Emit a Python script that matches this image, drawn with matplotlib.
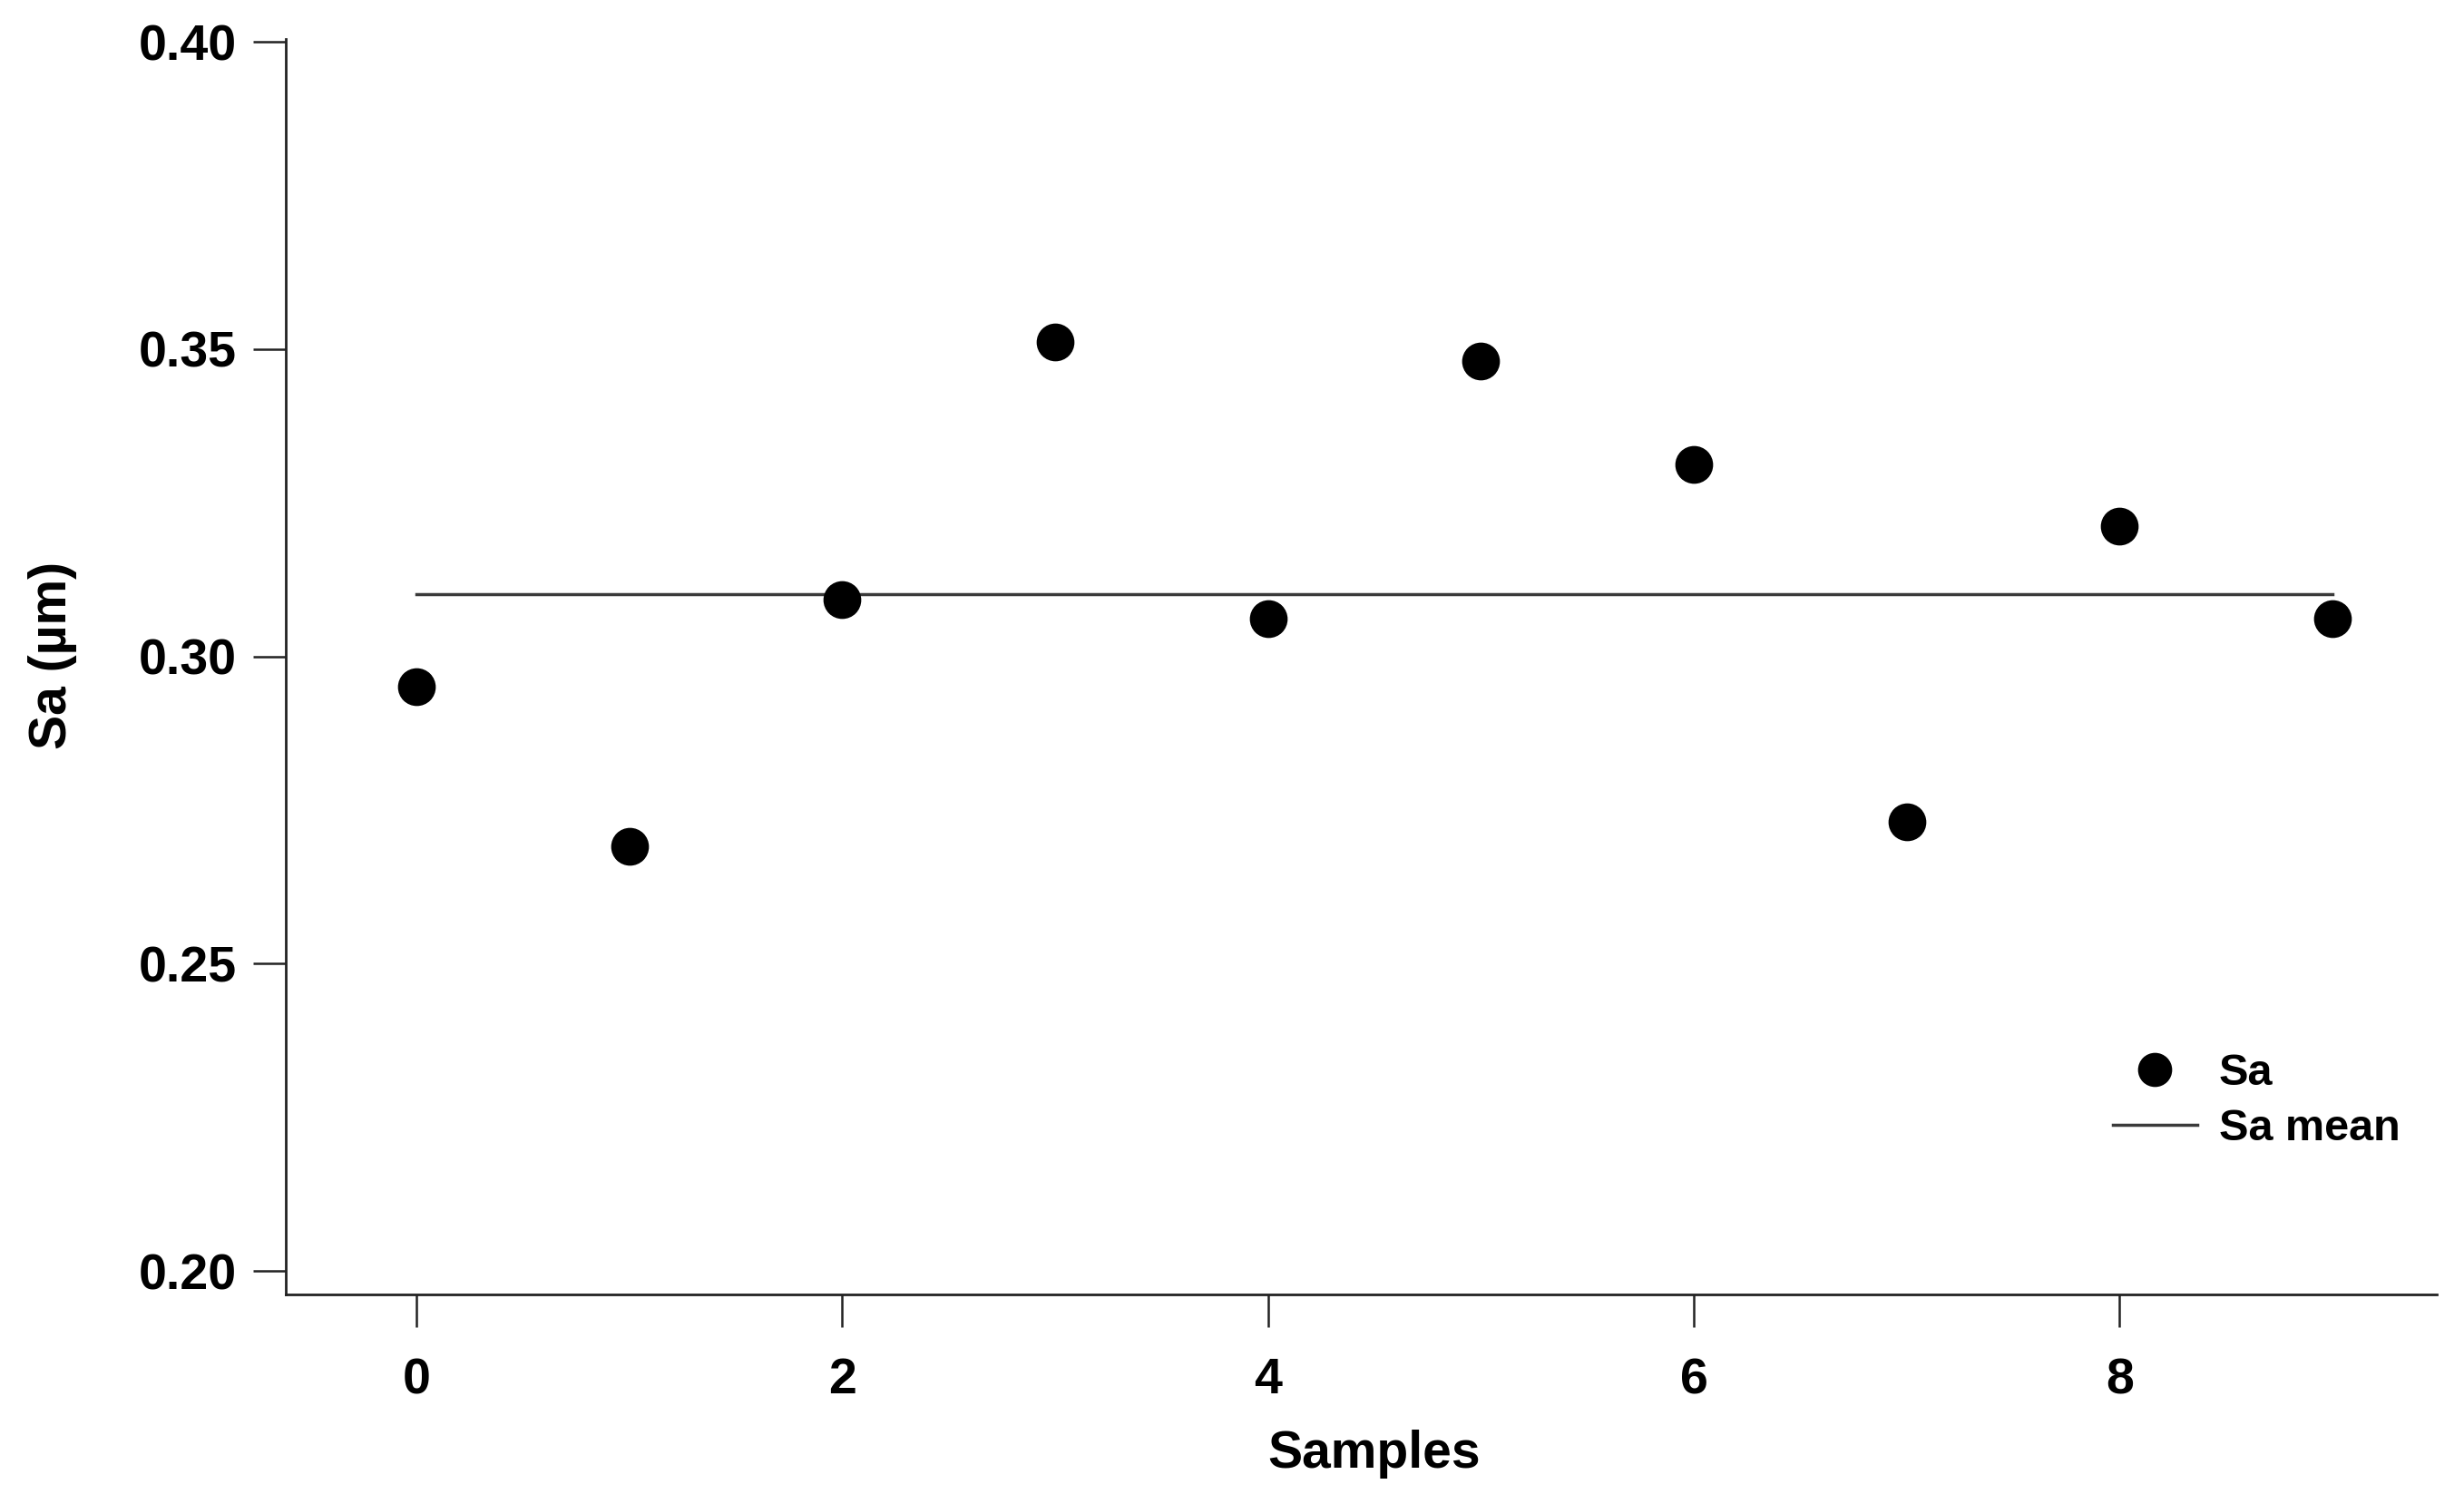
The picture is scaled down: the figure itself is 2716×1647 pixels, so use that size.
import numpy as np
import matplotlib
matplotlib.use("Agg")
import matplotlib.pyplot as plt

# Sa values
samples = [0, 1, 2, 3, 4, 5, 6, 7, 8, 9]
sa = [0.2951, 0.2691, 0.3092, 0.3512, 0.3061, 0.3481, 0.3312, 0.2731, 0.3212, 0.3061]
sa_mean = 0.3102  # mean line as drawn in the reference

yticks = [0.20, 0.25, 0.30, 0.35, 0.40]
ytick_labels = ["0.20", "0.25", "0.30", "0.35", "0.40"]
xticks = [0, 2, 4, 6, 8]

plt.rcParams['font.family'] = ['Liberation Sans', 'DejaVu Sans']
plt.rcParams['font.weight'] = 'bold'

fig = plt.figure(figsize=(27.16, 16.47), dpi=100)
ax = fig.add_axes([0.116, 0.1336, 0.873, 0.8404])

ax.plot(samples, sa, 'o', color='black', markersize=29, label='Sa', zorder=3)
ax.plot([samples[0], samples[-1]], [sa_mean, sa_mean], '-', color='#3a3a3a',
        lw=2.5, label='Sa mean')

ax.set_xlim(-0.613, 9.49)
ax.set_ylim(0.1962, 0.4005)
ax.set_xticks(xticks)
ax.set_yticks(yticks)
ax.set_yticklabels(ytick_labels)

for s in ['top', 'right']:
    ax.spines[s].set_visible(False)
for s in ['left', 'bottom']:
    ax.spines[s].set_linewidth(2.0)
    ax.spines[s].set_color('#222222')

ax.tick_params(axis='both', direction='out', length=26, width=1.8,
               color='#222222', labelsize=40)
ax.tick_params(axis='y', pad=13)
ax.tick_params(axis='x', pad=24)
for lab in ax.get_xticklabels() + ax.get_yticklabels():
    lab.set_fontweight('bold')

ax.set_xlabel('Samples', fontsize=41, fontweight='bold')
ax.set_ylabel('Sa (µm)', fontsize=41, fontweight='bold')
ax.xaxis.set_label_coords(0.506, -0.108)
ax.yaxis.set_label_coords(-0.097, 0.509)

leg = ax.legend(loc='upper left', bbox_to_anchor=(0.8495, 0.192), frameon=False,
                fontsize=35, handlelength=1.9, handletextpad=0.5,
                labelspacing=0.32, borderpad=0, borderaxespad=0, markerscale=0.9)
for t in leg.get_texts():
    t.set_fontweight('bold')

fig.savefig('out.png', dpi=100)
